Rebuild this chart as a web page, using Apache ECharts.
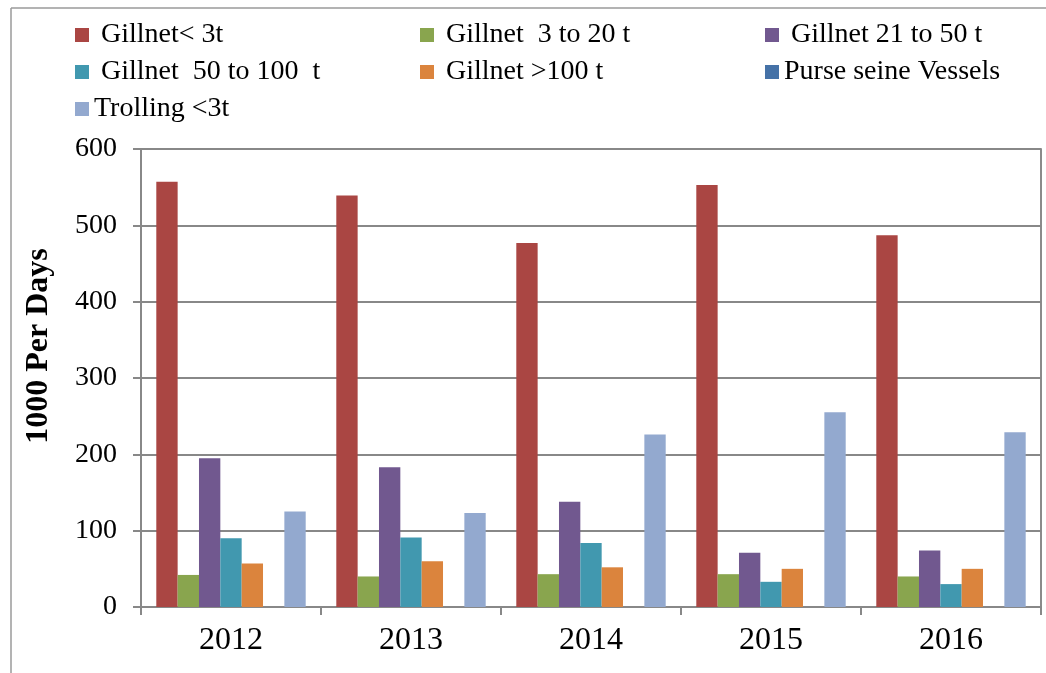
<!DOCTYPE html>
<html>
<head>
<meta charset="utf-8">
<script src="https://cdn.jsdelivr.net/npm/echarts@6/dist/echarts.min.js"></script>
<style>html,body{margin:0;padding:0;background:#fff;}#c{width:1046px;height:673px;}</style>
</head>
<body>
<div id="c"></div>
<script>
const years = ['2012', '2013', '2014', '2015', '2016'];
const seriesNames = [' Gillnet< 3t', ' Gillnet  3 to 20 t', ' Gillnet 21 to 50 t', ' Gillnet  50 to 100  t', ' Gillnet >100 t', 'Purse seine Vessels', 'Trolling <3t'];
const gillnetLt3 = [557, 539, 477, 553, 487];
const gillnet3to20 = [42, 40, 43, 43, 40];
const gillnet21to50 = [195, 183, 138, 71, 74];
const gillnet50to100 = [90, 91, 84, 33, 30];
const gillnetGt100 = [57, 60, 52, 50, 50];
const purseSeine = [0, 0, 0, 0, 0];
const trollingLt3 = [125, 123, 226, 255, 229];
const yTicks = [0, 100, 200, 300, 400, 500, 600];
const colors = ['#AA4643', '#89A54E', '#71588F', '#4198AF', '#DB843D', '#4572A7', '#93A9CF'];
const values = [gillnetLt3, gillnet3to20, gillnet21to50, gillnet50to100, gillnetGt100, purseSeine, trollingLt3];

const font = 'Liberation Serif, Times New Roman, serif';
const legendCommon = {
  orient: 'vertical', itemWidth: 14, itemHeight: 14, icon: 'rect', itemGap: 9,
  textStyle: { fontFamily: font, fontSize: 28, color: '#000', lineHeight: 28 },
  selectedMode: false
};
const chart = echarts.init(document.getElementById('c'), null, { renderer: 'canvas' });
chart.setOption({
  animation: false,
  color: colors,
  graphic: [
    { type: 'line', shape: { x1: 11, y1: 8, x2: 11, y2: 673 }, style: { stroke: '#9a9a9a', lineWidth: 1.5 } },
    { type: 'line', shape: { x1: 11, y1: 8, x2: 1046, y2: 8 }, style: { stroke: '#9a9a9a', lineWidth: 1.5 } }
  ],
  legend: [
    Object.assign({ left: 70, top: 16, data: [seriesNames[0], seriesNames[3], seriesNames[6]] }, legendCommon),
    Object.assign({ left: 415, top: 16, data: [seriesNames[1], seriesNames[4]] }, legendCommon),
    Object.assign({ left: 760, top: 16, data: [seriesNames[2], seriesNames[5]] }, legendCommon)
  ],
  grid: { left: 141, right: 5, top: 149, bottom: 66, show: true, borderColor: '#666', borderWidth: 1.5, backgroundColor: 'transparent' },
  xAxis: {
    type: 'category', data: years, boundaryGap: true,
    axisLine: { lineStyle: { color: '#888', width: 2 } },
    axisTick: { show: true, length: 8, lineStyle: { color: '#888', width: 2 } },
    axisLabel: { fontFamily: font, fontSize: 32, color: '#000', margin: 18 }
  },
  yAxis: {
    type: 'value', min: yTicks[0], max: yTicks[yTicks.length - 1], interval: 100,
    name: '1000 Per Days', nameLocation: 'middle', nameGap: 86, nameRotate: 90,
    nameTextStyle: { fontFamily: font, fontSize: 32, fontWeight: 'bold', color: '#000', padding: [0, 0, 0, 64] },
    axisLine: { show: true, lineStyle: { color: '#888', width: 2 } },
    axisTick: { show: true, length: 8, lineStyle: { color: '#888', width: 2 } },
    splitLine: { lineStyle: { color: '#888', width: 2 } },
    axisLabel: { fontFamily: font, fontSize: 28, color: '#000', margin: 24 }
  },
  series: seriesNames.map((n, i) => ({
    name: n, type: 'bar', data: values[i],
    barGap: '0%', barCategoryGap: '17%',
    itemStyle: { color: colors[i] }
  }))
});
</script>
</body>
</html>
